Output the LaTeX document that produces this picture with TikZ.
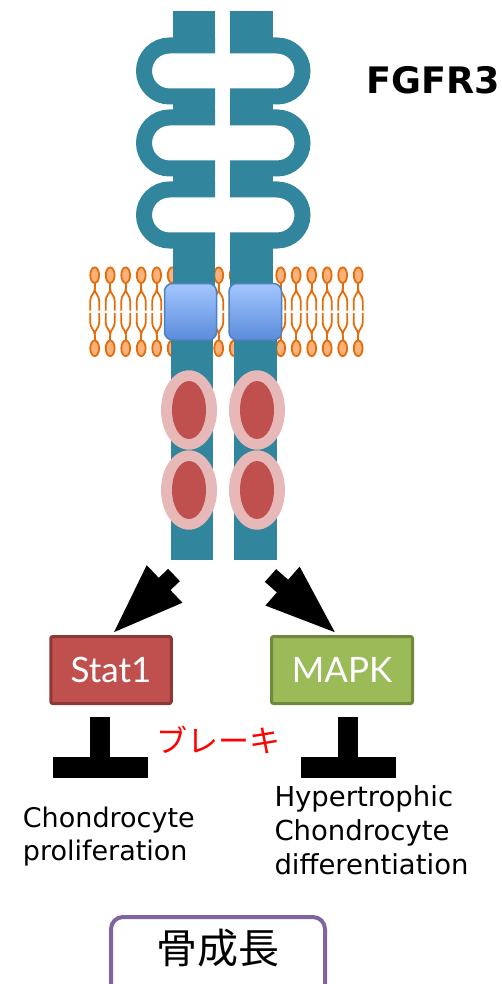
\documentclass[tikz,border=0pt]{standalone}
\usepackage{fontspec}
\setmainfont{DejaVu Sans}
\newfontfamily\boxfont{Lato}
\newfontfamily\jpfont{Noto Sans CJK JP}
\usetikzlibrary{arrows.meta,calc}

\definecolor{receptor}{HTML}{31859C}
\definecolor{lipid}{HTML}{E46C0A}
\definecolor{lipidhead}{HTML}{FAB27A}
\definecolor{tmtop}{HTML}{A3C6FF}
\definecolor{tmbottom}{HTML}{5B8CDB}
\definecolor{tmline}{HTML}{4F81BD}
\definecolor{tyrout}{HTML}{E6B9B8}
\definecolor{tyrin}{HTML}{C0504D}
\definecolor{statfill}{HTML}{C0504D}
\definecolor{statline}{HTML}{8C3836}
\definecolor{mapkfill}{HTML}{9BBB59}
\definecolor{mapkline}{HTML}{71893F}
\definecolor{growline}{HTML}{8064A2}

\tikzset{
  loopband/.style={draw=receptor,line width=16pt,rounded corners=25.5pt},
  lipidtail/.style={draw=lipid,line width=1.8pt},
  tmbox/.style={rounded corners=8pt,top color=tmtop,bottom color=tmbottom,draw=tmline,line width=1.5pt},
  kinase/.style={rectangle,rounded corners=2pt,line width=3pt,minimum height=67pt,
    text=white,font=\boxfont\fontsize{35}{35}\selectfont},
  signal/.style={line width=17pt,-{Triangle[length=74pt,width=46pt]}},
  brake/.style={line width=20pt,-{Rectangle[length=21pt,width=95pt]}},
  effect/.style={anchor=north west,align=left,inner sep=0pt}
}

\begin{document}
\begin{tikzpicture}[x=1pt,y=-1pt]

\useasboundingbox (0,0) rectangle (501,984);
\clip (0,0) rectangle (501,984);

% membrane
\foreach \i in {0,...,17}{
  \pgfmathsetmacro{\lx}{94.7+15.5*\i}
  \draw[lipidtail] (\lx,283) -- (\lx,289);
  \draw[lipidtail] (\lx-4.5,310.5) -- (\lx-4.5,301) .. controls (\lx-4.5,295) and (\lx,294) .. (\lx,289)
     .. controls (\lx,294) and (\lx+4.5,295) .. (\lx+4.5,301) -- (\lx+4.5,310.5);
  \draw[lipidtail] (\lx,340.5) -- (\lx,334.5);
  \draw[lipidtail] (\lx-4.5,313) -- (\lx-4.5,322.5) .. controls (\lx-4.5,328.5) and (\lx,329.5) .. (\lx,334.5)
     .. controls (\lx,329.5) and (\lx+4.5,328.5) .. (\lx+4.5,322.5) -- (\lx+4.5,313);
  \draw[lipidtail,fill=lipidhead] (\lx,275.2) ellipse [x radius=4.4, y radius=7.8];
  \draw[lipidtail,fill=lipidhead] (\lx,348.3) ellipse [x radius=4.4, y radius=7.8];
}

% receptor chains
\foreach \y/\h in {11/53,89/125,162/197,233/300}{
  \fill[receptor] (172.5,\y) rectangle (215,\h);
  \fill[receptor] (230,\y) rectangle (273,\h);
}
\fill[receptor] (170.5,300) rectangle (213,560);
\fill[receptor] (233.5,300) rectangle (276.5,560);

% Ig-like loops
\foreach \yc in {71,143,215}{
  \draw[loopband] (215,\yc-25.5) -- (144,\yc-25.5) -- (144,\yc+25.5) -- (215,\yc+25.5);
  \draw[loopband] (230,\yc-25.5) -- (302.5,\yc-25.5) -- (302.5,\yc+25.5) -- (230,\yc+25.5);
}

% transmembrane parts
\draw[tmbox] (164.5,283.5) rectangle (216.5,340);
\draw[tmbox] (229,283.5) rectangle (281.5,340);

% kinase domains
\foreach \cx in {189,257}
  \foreach \cy in {410,490}{
    \fill[tyrout] (\cx,\cy) ellipse [x radius=28, y radius=39.7];
    \fill[tyrin] (\cx,\cy) ellipse [x radius=17, y radius=29];
  }

\node[font=\bfseries\fontsize{36.5}{36.5}\selectfont,anchor=base west,inner sep=0pt] (fgfr) at (366,93.3) {FGFR3};

\node[kinase,fill=statfill,draw=statline,minimum width=120.5pt] (stat) at (111,670) {Stat1};
\node[kinase,fill=mapkfill,draw=mapkline,minimum width=141pt] (mapk) at (342,670) {MAPK};

\coordinate (outL) at (174,575);
\coordinate (outR) at (270.5,575.5);
\draw[signal] (outL) -- (stat.north);
\draw[signal] (outR) -- ($(mapk.north)+(-4,0)$);

% inhibition
\coordinate (stopL) at (100,778);
\coordinate (stopR) at (348,778);
\draw[brake] ($(stat.south)+(-11,12)$) -- (stopL);
\draw[brake] ($(mapk.south)+(6,12)$) -- (stopR);
\node[text=red,font=\jpfont\fontsize{31}{31}\selectfont] (brakelabel) at (218,740) {ブレーキ};

\node[effect,font=\fontsize{27}{33.5}\selectfont] (prolif) at (22.7,806.5) {Chondrocyte\\proliferation};
\node[effect,font=\fontsize{27.5}{34}\selectfont] (hyper) at (274.3,785) {Hypertrophic\\Chondrocyte\\differentiation};

\draw[draw=growline,line width=4pt,rounded corners=12pt] (111,917) rectangle (325,1005);
\node[font=\jpfont\fontsize{41}{41}\selectfont] (bone) at (218,948) {骨成長};

\end{tikzpicture}
\end{document}
